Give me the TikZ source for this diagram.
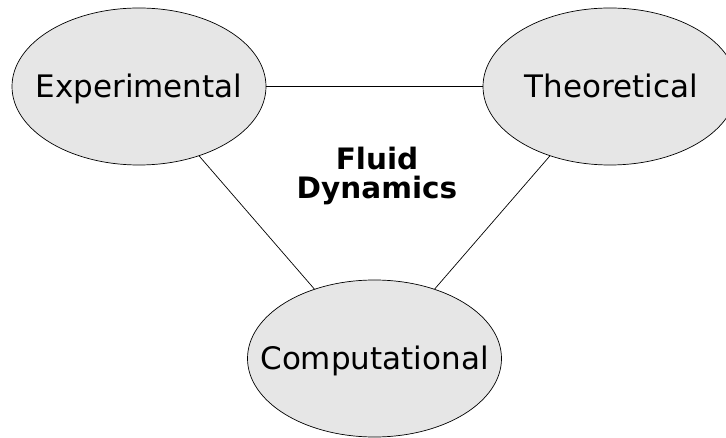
\documentclass[tikz,border=0pt]{standalone}
\usepackage{fontspec}
\setmainfont{DejaVu Sans}
\usetikzlibrary{shapes.geometric}
\definecolor{bubblefill}{HTML}{E6E6E6}
\tikzset{
  bubble/.style={ellipse, draw=black, line width=0.7pt, fill=bubblefill,
    minimum width=254pt, minimum height=157pt, inner sep=0pt},
  bubbletext/.style={font=\fontsize{31}{36}\selectfont, text height=22.6pt, text depth=0pt, inner sep=0pt},
  link/.style={draw=black, line width=0.7pt},
  title/.style={font=\fontsize{29.5}{29}\selectfont\bfseries, align=center, inner sep=0pt}
}
\begin{document}
\begin{tikzpicture}[x=1pt,y=1pt]
\useasboundingbox (0,0) rectangle (726,437);
\node[bubble, label={[bubbletext]center:Experimental}] (E) at (139,350.5) {};
\node[bubble, label={[bubbletext, xshift=1.5pt]center:Theoretical}] (T) at (610,350.5) {};
\node[bubble, label={[bubbletext]center:Computational}] (C) at (374.5,78.5) {};
\draw[link] (E) -- (T);
\draw[link] (E) -- (C);
\draw[link] (T) -- (C);
\node[title] (F) at (377,261) {Fluid\\Dynamics};
\end{tikzpicture}
\end{document}
